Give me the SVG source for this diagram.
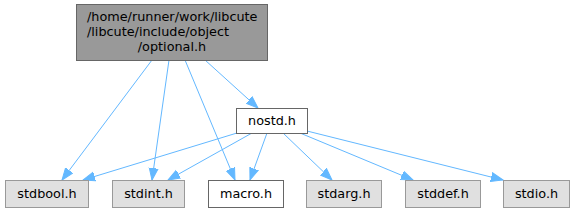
<svg xmlns="http://www.w3.org/2000/svg" width="576" height="212" viewBox="0 0 576 212">
<style>
text{font-family:"DejaVu Sans","Liberation Sans",sans-serif;font-size:12.8px;fill:#000}
.c{text-anchor:middle}
.main{fill:#999999;stroke:#666666;stroke-width:1}
.wn{fill:#ffffff;stroke:#666666;stroke-width:1}
.gn{fill:#e0e0e0;stroke:#999999;stroke-width:1}
.e{fill:none;stroke:#63b8ff;stroke-width:1;marker-end:url(#ah)}
</style>
<defs>
<marker id="ah" markerUnits="userSpaceOnUse" markerWidth="14" markerHeight="12" refX="12" refY="5" orient="auto" viewBox="0 0 14 10">
<path d="M0,0.5 L12,5 L0,9.5 z" fill="#63b8ff" stroke="#63b8ff" stroke-width="1"/>
</marker>
</defs>
<g id="edges">
<path class="e" d="M152,60 L62,180"/>
<path class="e" d="M169,60 L152,180"/>
<path class="e" d="M185,60 L235,180"/>
<path class="e" d="M205,60 L258,108"/>
<path class="e" d="M237,133 L83,180"/>
<path class="e" d="M252,133 L168,180"/>
<path class="e" d="M267,133 L250,180"/>
<path class="e" d="M283,133 L332,180"/>
<path class="e" d="M300,133 L413,180"/>
<path class="e" d="M307,131 L503,180"/>
</g>
<g id="node_optional">
<rect class="main" x="76.5" y="4.5" width="191" height="56"/>
<text x="87" y="21">/home/runner/work/libcute</text>
<text x="87" y="36">/libcute/include/object</text>
<text class="c" x="172" y="51">/optional.h</text>
</g>
<g id="node_nostd">
<rect class="wn" x="236.5" y="108.5" width="71" height="25"/>
<text class="c" x="272" y="125">nostd.h</text>
</g>
<g id="node_stdbool">
<rect class="gn" x="5.5" y="180.5" width="83" height="27"/>
<text class="c" x="47" y="198">stdbool.h</text>
</g>
<g id="node_stdint">
<rect class="gn" x="112.5" y="180.5" width="72" height="27"/>
<text class="c" x="148.5" y="198">stdint.h</text>
</g>
<g id="node_macro">
<rect class="wn" x="208.5" y="180.5" width="75" height="27"/>
<text class="c" x="246" y="198">macro.h</text>
</g>
<g id="node_stdarg">
<rect class="gn" x="306.5" y="180.5" width="75" height="27"/>
<text class="c" x="344" y="198">stdarg.h</text>
</g>
<g id="node_stddef">
<rect class="gn" x="405.5" y="180.5" width="75" height="27"/>
<text class="c" x="443" y="198">stddef.h</text>
</g>
<g id="node_stdio">
<rect class="gn" x="503.5" y="180.5" width="66" height="27"/>
<text class="c" x="536.5" y="198">stdio.h</text>
</g>
</svg>
